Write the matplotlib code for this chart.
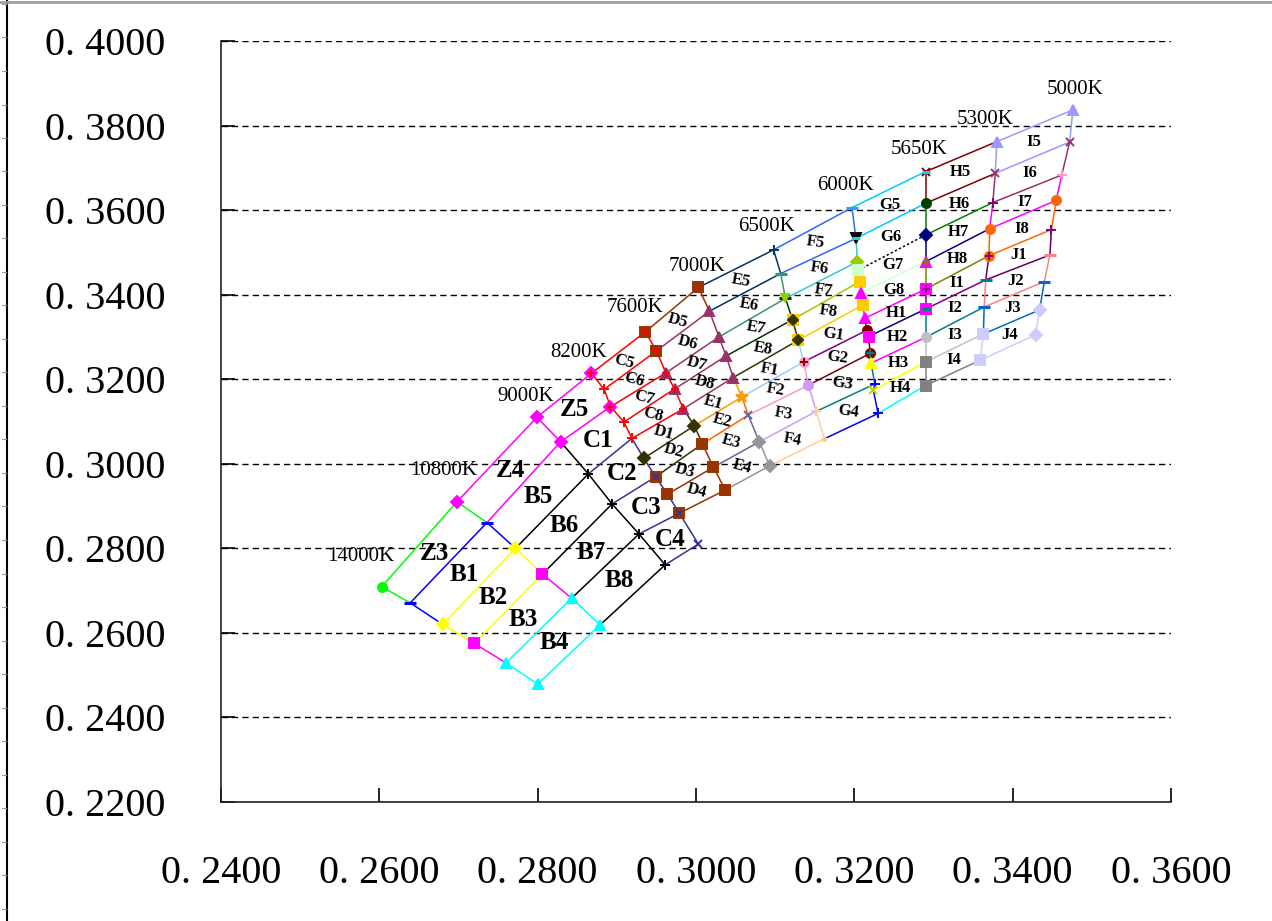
import numpy as np
import matplotlib
matplotlib.use('Agg')
import matplotlib.pyplot as plt
from matplotlib.lines import Line2D
from matplotlib.ticker import FuncFormatter

# CCT boundary lines, nodes listed from the top (high Duv) down
cct_names = ['14000K', '10800K', '9000K', '8200K', '7600K', '7000K',
             '6500K', '6000K', '5650K', '5300K', '5000K']

iso_x = [
    [0.2603, 0.2639, 0.2680, 0.2720, 0.2760, 0.2800],
    [0.2698, 0.2736, 0.2772, 0.2806, 0.2843, 0.2879],
    [0.2799, 0.2829, 0.2864, 0.2894, 0.2928, 0.2961],
    [0.2868, 0.2884, 0.2892, 0.2909, 0.2919, 0.2934, 0.2949, 0.2964, 0.2979, 0.3003],
    [0.2936, 0.2950, 0.2962, 0.2973, 0.2984, 0.2998, 0.3008, 0.3022, 0.3037],
    [0.3003, 0.3017, 0.3029, 0.3038, 0.3047, 0.3058, 0.3066, 0.3080, 0.3093],
    [0.3098, 0.3107, 0.3113, 0.3122, 0.3129, 0.3136, 0.3142, 0.3152, 0.3162],
    [0.3197, 0.3202, 0.3204, 0.3205, 0.3207, 0.3209, 0.3211, 0.3213, 0.3216,
     0.3218, 0.3220, 0.3221, 0.3226, 0.3224, 0.3230],
    [0.3290, 0.3290, 0.3290, 0.3290, 0.3290, 0.3290, 0.3290, 0.3290, 0.3290],
    [0.3380, 0.3378, 0.3375, 0.3371, 0.3370, 0.3366, 0.3364, 0.3363, 0.3359],
    [0.3476, 0.3472, 0.3462, 0.3455, 0.3449, 0.3447, 0.3440, 0.3434, 0.3429],
]
iso_y = [
    [0.2709, 0.2671, 0.2620, 0.2575, 0.2529, 0.2479],
    [0.2910, 0.2861, 0.2800, 0.2739, 0.2682, 0.2619],
    [0.3110, 0.3052, 0.2976, 0.2905, 0.2834, 0.2761],
    [0.3214, 0.3176, 0.3135, 0.3099, 0.3060, 0.3013, 0.2969, 0.2928, 0.2883, 0.2810],
    [0.3312, 0.3267, 0.3215, 0.3177, 0.3130, 0.3090, 0.3047, 0.2992, 0.2938],
    [0.3417, 0.3361, 0.3300, 0.3255, 0.3204, 0.3158, 0.3115, 0.3052, 0.2995],
    [0.3506, 0.3450, 0.3391, 0.3341, 0.3292, 0.3241, 0.3186, 0.3124, 0.3059],
    [0.3606, 0.3533, 0.3478, 0.3458, 0.3431, 0.3405, 0.3376, 0.3344, 0.3316,
     0.3301, 0.3261, 0.3238, 0.3189, 0.3174, 0.3119],
    [0.3691, 0.3616, 0.3541, 0.3478, 0.3413, 0.3366, 0.3299, 0.3241, 0.3185],
    [0.3762, 0.3687, 0.3618, 0.3556, 0.3492, 0.3435, 0.3371, 0.3307, 0.3245],
    [0.3837, 0.3761, 0.3683, 0.3623, 0.3554, 0.3494, 0.3431, 0.3364, 0.3305],
]
iso_seg_colors = [
    ['#00FF00', '#0000FF', '#FFFF00', '#FF00FF', '#00FFFF'],
    ['#00FF00', '#0000FF', '#FFFF00', '#FF00FF', '#00FFFF'],
    ['#FF00FF', '#000000', '#000000', '#000000', '#000000'],
    ['#FF0000', '#FF0000', '#FF0000', '#FF0000', '#333399', '#333399', '#333399', '#333399', '#333399'],
    ['#FF0000', '#FF0000', '#FF0000', '#FF0000', '#333300', '#333300', '#993300', '#993300'],
    ['#993300', '#993366', '#993366', '#993366', '#FF9900', '#FF6600', '#666699', '#969696'],
    ['#003366', '#339966', '#003300', '#333300', '#99CCFF', '#FF99CC', '#CC99FF', '#FFCC99'],
    ['#3366FF', '#33CCCC', '#99CC00', '#99CC00', '#FFCC00', '#FFCC00', '#FF00FF', '#800080',
     '#FF00FF', '#800000', '#800000', '#008080', '#008080', '#0000FF'],
    ['#800000', '#008000', '#000080', '#808000', '#800080', '#008080', '#C0C0C0', '#808080'],
    ['#9999FF', '#993366', '#FF00FF', '#FF6600', '#660066', '#FF8080', '#0066CC', '#CCCCFF'],
    ['#9999FF', '#993366', '#FF00FF', '#FF6600', '#660066', '#FF8080', '#0066CC', '#CCCCFF'],
]
iso_markers = [
    ['o', '_', 'D', 's', '^', '^'],
    ['D', '_', 'D', 's', '^', '^'],
    ['D', 'D', '+', '+', '+', '+'],
    ['D', '+', 'D', '+', '+', 'D', 's', 's', 's', 'x'],
    ['s', 's', '^', '^', '^', 'D', 's', 's', 's'],
    ['s', '^', '^', '^', '^', '*', 'x', 'D', 'D'],
    ['+', '_', '_', 's', 's', 'o', 'o', '+', '.'],
    ['_', 'v', 'D', 's', 's', '^', 's', '^', 'o', 's', 'o', '^', '+', 'x', '+'],
    ['x', 'o', 'D', '^', 's', 's', 'o', 's', 's'],
    ['^', 'x', '+', 'o', 'o', '_', '_', 's', 's'],
    ['^', 'x', '+', 'o', '+', '_', '_', 'D', 'D'],
]
iso_marker_colors = [
    ['#00FF00', '#0000FF', '#FFFF00', '#FF00FF', '#00FFFF', '#00FFFF'],
    ['#FF00FF', '#0000FF', '#FFFF00', '#FF00FF', '#00FFFF', '#00FFFF'],
    ['#FF00FF', '#FF00FF', '#000000', '#000000', '#000000', '#000000'],
    ['#FF00FF', '#FF0000', '#FF00FF', '#FF0000', '#FF0000', '#333300', '#993300', '#993300', '#993300', '#333399'],
    ['#993300', '#993300', '#993366', '#993366', '#993366', '#333300', '#993300', '#993300', '#993300'],
    ['#993300', '#993366', '#993366', '#993366', '#993366', '#FF9900', '#666699', '#969696', '#969696'],
    ['#003366', '#339966', '#003300', '#FFCC00', '#FFCC00', '#FF99CC', '#CC99FF', '#FFCC99', '#FFCC99'],
    ['#3399FF', '#000000', '#99CC00', '#CCFFCC', '#FFCC00', '#FF00FF', '#FFCC00', '#FF00FF', '#800000',
     '#FF00FF', '#800000', '#FFFF00', '#0000FF', '#CCCC00', '#0000FF'],
    ['#800000', '#004000', '#000080', '#FF00FF', '#FF00FF', '#FF00FF', '#C0C0C0', '#808080', '#808080'],
    ['#9999FF', '#993366', '#800080', '#FF6600', '#FF6600', '#008080', '#0066CC', '#CCCCFF', '#CCCCFF'],
    ['#9999FF', '#993366', '#FF99CC', '#FF6600', '#800080', '#FF8080', '#0066CC', '#CCCCFF', '#CCCCFF'],
]
# second marker drawn on top of some nodes: (boundary, node, marker, colour)
overlays = [
    (3, 0, '+', '#FF0000'), (3, 2, '+', '#FF0000'), (3, 6, 'x', '#333399'), (3, 8, 'x', '#333399'),
    (4, 0, '+', '#FF0000'), (4, 1, '+', '#FF0000'), (4, 2, '+', '#FF0000'), (4, 3, '+', '#FF0000'),
    (4, 4, '+', '#FF0000'), (6, 2, 'v', '#99CC00'), (6, 3, 'D', '#333300'), (6, 4, 'D', '#333300'),
    (6, 5, '+', '#800000'), (7, 1, '_', '#33CCCC'), (7, 10, '+', '#008080'), (8, 0, '_', '#00CCFF'),
    (8, 3, '+', '#808000'), (8, 4, '+', '#800080'), (8, 5, '_', '#008080'), (9, 4, '+', '#800080'),
]

# bins between neighbouring CCT lines: which nodes each row line joins
col_left_idx = [
    [0, 1, 2, 3, 4, 5], [0, 1, 2, 3, 4, 5], [0, 1, 2, 3, 4, 5],
    [0, 1, 2, 3, 4, 5, 6, 7, 8], [0, 1, 2, 3, 4, 5, 6, 7, 8], [0, 1, 2, 3, 4, 5, 6, 7, 8],
    [0, 1, 2, 3, 4, 5, 6, 7, 8], [0, 1, 3, 5, 7, 9, 11, 13, 14],
    [0, 1, 2, 3, 4, 5, 6, 7, 8], [0, 1, 2, 3, 4, 5, 6, 7, 8],
]
col_right_idx = [
    [0, 1, 2, 3, 4, 5], [0, 1, 2, 3, 4, 5], [0, 2, 4, 6, 8, 9],
    [0, 1, 2, 3, 4, 5, 6, 7, 8], [0, 1, 2, 3, 4, 5, 6, 7, 8], [0, 1, 2, 3, 4, 5, 6, 7, 8],
    [0, 1, 2, 4, 6, 8, 10, 12, 14], [0, 1, 2, 3, 4, 5, 6, 7, 8],
    [0, 1, 2, 3, 4, 5, 6, 7, 8], [0, 1, 2, 3, 4, 5, 6, 7, 8],
]
col_line_colors = [
    ['#00FF00', '#0000FF', '#FFFF00', '#FFFF00', '#00FFFF', '#00FFFF'],
    ['#FF00FF', '#FF00FF', '#000000', '#000000', '#000000', '#000000'],
    ['#FF00FF', '#FF00FF', '#333399', '#333399', '#333399', '#333399'],
    ['#FF0000', '#FF0000', '#FF0000', '#FF0000', '#FF0000', '#333300', '#333300', '#993300', '#993300'],
    ['#993300', '#993366', '#993366', '#993366', '#993366', '#FF9900', '#FF6600', '#666699', '#969696'],
    ['#003366', '#003366', '#339966', '#003300', '#333300', '#99CCFF', '#FF99CC', '#CC99FF', '#FFCC99'],
    ['#3366FF', '#3366FF', '#33CCCC', '#99CC00', '#FFCC00', '#800080', '#800000', '#008080', '#0000FF'],
    ['#00CCFF', '#00CCFF', '#000000', '#CCFFCC', '#FF00FF', '#000080', '#FF00FF', '#FFFF00', '#00FFFF'],
    ['#800000', '#800000', '#008000', '#000080', '#808000', '#800080', '#008080', '#C0C0C0', '#808080'],
    ['#9999FF', '#9999FF', '#993366', '#FF00FF', '#FF6600', '#660066', '#FF8080', '#0066CC', '#CCCCFF'],
]
col_labels = [
    ['Z3', 'B1', 'B2', 'B3', 'B4'],
    ['Z4', 'B5', 'B6', 'B7', 'B8'],
    ['Z5', 'C1', 'C2', 'C3', 'C4'],
    ['C5', 'C6', 'C7', 'C8', 'D1', 'D2', 'D3', 'D4'],
    ['D5', 'D6', 'D7', 'D8', 'E1', 'E2', 'E3', 'E4'],
    ['E5', 'E6', 'E7', 'E8', 'F1', 'F2', 'F3', 'F4'],
    ['F5', 'F6', 'F7', 'F8', 'G1', 'G2', 'G3', 'G4'],
    ['G5', 'G6', 'G7', 'G8', 'H1', 'H2', 'H3', 'H4'],
    ['H5', 'H6', 'H7', 'H8', 'I1', 'I2', 'I3', 'I4'],
    ['I5', 'I6', 'I7', 'I8', 'J1', 'J2', 'J3', 'J4'],
]
label_size = [18, 18, 18, 12, 12, 12, 12, 12, 12, 12]
label_rot = [0, 0, 0, -15, -15, -10, -8, 0, 0, 0]
# CCT name offsets from the top node, pixels
cct_offset = [(-21, 30), (-13, 31), (-11, 21), (-13, 21), (-10, 24), (-1, 21),
              (-7, 23), (-7, 22), (-6, 22), (-12, 22), (2, 20)]

serif = 'Liberation Serif'

fig = plt.figure(figsize=(12.72, 9.21), dpi=100)
ax = fig.add_axes([221 / 1272, 1 - 802 / 921, 950 / 1272, 761 / 921])

# CCT boundary segments
for k in range(len(iso_x)):
    for s in range(len(iso_x[k]) - 1):
        ax.plot(iso_x[k][s:s + 2], iso_y[k][s:s + 2], color=iso_seg_colors[k][s], lw=1.1, zorder=2)

# row lines and bin names
for c in range(len(col_left_idx)):
    L, R = col_left_idx[c], col_right_idx[c]
    for r in range(len(L)):
        ls = (0, (1.5, 1.5)) if col_line_colors[c][r] == '#000000' and c == 7 else '-'
        ax.plot([iso_x[c][L[r]], iso_x[c + 1][R[r]]], [iso_y[c][L[r]], iso_y[c + 1][R[r]]],
                color=col_line_colors[c][r], lw=1.1, ls=ls, zorder=2)
    for r in range(len(L) - 1):
        qx = [iso_x[c][L[r]], iso_x[c + 1][R[r]], iso_x[c + 1][R[r + 1]], iso_x[c][L[r + 1]]]
        qy = [iso_y[c][L[r]], iso_y[c + 1][R[r]], iso_y[c + 1][R[r + 1]], iso_y[c][L[r + 1]]]
        ax.text(np.mean(qx), np.mean(qy), col_labels[c][r], ha='center', va='center',
                fontsize=label_size[c], fontweight='bold', family=serif,
                rotation=label_rot[c], zorder=5)

# node markers
def mark(x, y, m, col, scale=1.0):
    size = {'_': 8, '+': 7, 'x': 6, '.': 5, 'o': 6.5, '*': 9}.get(m, 6.5) * scale
    ax.plot([x], [y], ls='none', marker=m, color=col, ms=size,
            mew=2.2 if m == '_' else 1.4, zorder=4)

for k in range(len(iso_x)):
    for i in range(len(iso_x[k])):
        mark(iso_x[k][i], iso_y[k][i], iso_markers[k][i], iso_marker_colors[k][i])
for k, i, m, col in overlays:
    mark(iso_x[k][i], iso_y[k][i], m, col, 0.8)

# CCT names at the top of each boundary
for k in range(len(cct_names)):
    ax.annotate(cct_names[k], (iso_x[k][0], iso_y[k][0]), xytext=cct_offset[k],
                textcoords='offset pixels', ha='center', va='center',
                fontsize=15, family=serif, zorder=6)

ax.set_xlim(0.24, 0.36)
ax.set_ylim(0.22, 0.40)
ax.set_xticks(np.arange(0.24, 0.3601, 0.02))
ax.set_yticks(np.arange(0.22, 0.4001, 0.02))
fmt = FuncFormatter(lambda v, p: '0. %04d' % round(v * 10000))
ax.xaxis.set_major_formatter(fmt)
ax.yaxis.set_major_formatter(fmt)
for lab in ax.get_xticklabels() + ax.get_yticklabels():
    lab.set_family(serif)
    lab.set_fontsize(29)
ax.tick_params(axis='y', direction='in', length=10, width=1.2, pad=40)
ax.tick_params(axis='x', direction='in', length=10, width=1.2, pad=38)
ax.yaxis.grid(True, linestyle=(0, (4.5, 3)), color='black', lw=1.0)
ax.set_axisbelow(True)
for side in ['top', 'right']:
    ax.spines[side].set_visible(False)
for side in ['left', 'bottom']:
    ax.spines[side].set_linewidth(1.2)
    ax.spines[side].set_color('#222222')

# window frame bits around the chart
fig.add_artist(Line2D([7 / 1272, 7 / 1272], [0, 1], color='black', lw=1.5))
fig.add_artist(Line2D([0, 1], [1 - 2 / 921, 1 - 2 / 921], color='#a0a090', lw=2))
for yy in np.arange(4, 921, 33.5):
    fig.add_artist(Line2D([2 / 1272, 6 / 1272], [1 - yy / 921] * 2, color='#999999', lw=0.8))

fig.savefig('out.png', dpi=100)
